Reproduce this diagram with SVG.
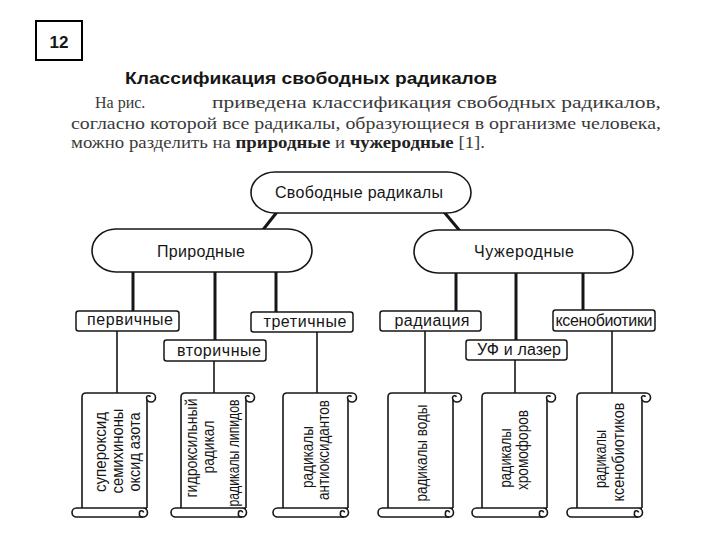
<svg xmlns="http://www.w3.org/2000/svg" xmlns:xlink="http://www.w3.org/1999/xlink" width="720" height="540" viewBox="0 0 720 540">
<style>
.sans{font-family:"Liberation Sans",Arial,"Noto Sans",sans-serif;fill:#161616}
.serif{font-family:"Liberation Serif","Times New Roman",serif;fill:#3a3a3a}
.node{fill:#fff;stroke:#161616;stroke-width:1.6}
.box{fill:#fff;stroke:#161616;stroke-width:1.5}
.thick{stroke:#161616;stroke-width:3;fill:none}
.thin{stroke:#161616;stroke-width:1.6;fill:none}
.scr{fill:none;stroke:#161616;stroke-width:1.6;stroke-linejoin:round}
.t16{font-size:16px}
.t15{font-size:16px}
</style>
<defs>
<g id="scroll">
<path class="scr" d="M0,115 V4 Q0,0 4,0 H69"/>
<path class="scr" d="M69,0 A4.5,4.5 0 1 1 64.5,4.5 A2.2,2.2 0 0 1 68.5,3.8"/>
<path class="scr" d="M65,7 V115"/>
<path class="scr" d="M65,115 H-5.5 A4.5,4.5 0 0 0 -5.5,124 H61 A4.5,4.5 0 0 0 61,115"/>
<path class="scr" d="M61,124 A3,3 0 0 1 57.5,120 A2,2 0 0 1 61.5,119.5"/>
</g>
</defs>
<rect width="720" height="540" fill="#fff"/>

<g id="page-number">
<rect x="36" y="21" width="46" height="39" fill="#fff" stroke="#000" stroke-width="2"/>
<text x="59" y="48" class="sans" font-size="17" font-weight="bold" text-anchor="middle" fill="#000">12</text>
</g>

<g id="heading">
<text x="125" y="84" class="sans" font-size="16" font-weight="bold" textLength="372" lengthAdjust="spacingAndGlyphs" fill="#222">Классификация свободных радикалов</text>
<text x="95" y="108" class="serif" font-size="16">На рис.</text>
<text x="212" y="108" class="serif" font-size="16" textLength="449" lengthAdjust="spacingAndGlyphs">приведена классификация свободных радикалов,</text>
<text x="71" y="129" class="serif" font-size="16" textLength="590" lengthAdjust="spacingAndGlyphs">согласно которой все радикалы, образующиеся в организме человека,</text>
<text x="71" y="148" class="serif" font-size="16" textLength="414" lengthAdjust="spacingAndGlyphs">можно разделить на <tspan font-weight="bold" fill="#222">природные</tspan> и <tspan font-weight="bold" fill="#222">чужеродные</tspan> [1].</text>
</g>

<g id="connectors">
<line class="thick" x1="277" y1="212" x2="262" y2="231"/>
<line class="thick" x1="444" y1="212" x2="460" y2="231"/>
<line class="thick" x1="133" y1="272" x2="133" y2="311"/>
<line class="thick" x1="215" y1="272" x2="215" y2="340"/>
<line class="thick" x1="276" y1="272" x2="276" y2="312"/>
<line class="thick" x1="456" y1="273" x2="456" y2="311"/>
<line class="thick" x1="516" y1="273" x2="516" y2="340"/>
<line class="thick" x1="583" y1="273" x2="583" y2="310"/>
<line class="thin" x1="117" y1="331" x2="117" y2="393"/>
<line class="thin" x1="214" y1="361" x2="214" y2="393"/>
<line class="thin" x1="317" y1="332" x2="317" y2="393"/>
<line class="thin" x1="425" y1="331" x2="425" y2="393"/>
<line class="thin" x1="515" y1="360" x2="515" y2="393"/>
<line class="thin" x1="612" y1="331" x2="612" y2="393"/>
</g>

<g id="n-root">
<rect class="node" x="251" y="172" width="220" height="41" rx="24" ry="20.5"/>
<text x="359" y="198" class="sans t16" text-anchor="middle" textLength="168" lengthAdjust="spacing">Свободные радикалы</text>
</g>
<g id="n-natural">
<rect class="node" x="92" y="229" width="220" height="43" rx="24" ry="21.5"/>
<text x="201" y="257" class="sans t16" text-anchor="middle" textLength="88" lengthAdjust="spacing">Природные</text>
</g>
<g id="n-foreign">
<rect class="node" x="414" y="230" width="219" height="43" rx="24" ry="21.5"/>
<text x="524" y="257" class="sans t16" text-anchor="middle" textLength="100" lengthAdjust="spacing">Чужеродные</text>
</g>

<g id="n-primary">
<rect class="box" x="76" y="311" width="103" height="20" rx="2.5"/>
<text x="130" y="325" class="sans t16" text-anchor="middle" textLength="86" lengthAdjust="spacing">первичные</text>
</g>
<g id="n-secondary">
<rect class="box" x="164" y="340" width="102" height="21" rx="2.5"/>
<text x="219" y="356" class="sans t16" text-anchor="middle" textLength="84" lengthAdjust="spacing">вторичные</text>
</g>
<g id="n-tertiary">
<rect class="box" x="251" y="312" width="102" height="20" rx="2.5"/>
<text x="305" y="327" class="sans t16" text-anchor="middle" textLength="83" lengthAdjust="spacing">третичные</text>
</g>
<g id="n-radiation">
<rect class="box" x="380" y="311" width="101" height="20" rx="2.5"/>
<text x="432" y="326" class="sans t16" text-anchor="middle" textLength="75" lengthAdjust="spacing">радиация</text>
</g>
<g id="n-uv">
<rect class="box" x="466" y="340" width="101" height="20" rx="2.5"/>
<text x="519" y="355" class="sans t16" text-anchor="middle" textLength="84" lengthAdjust="spacing">УФ и лазер</text>
</g>
<g id="n-xeno">
<rect class="box" x="553" y="310" width="102" height="21" rx="2.5"/>
<text x="604" y="326" class="sans t16" text-anchor="middle" textLength="97" lengthAdjust="spacing">ксенобиотики</text>
</g>

<g id="s1">
<use xlink:href="#scroll" href="#scroll" x="82" y="393"/>
<text class="sans t15" text-anchor="middle" transform="translate(106,452) rotate(-90)" textLength="80" lengthAdjust="spacingAndGlyphs">супероксид</text>
<text class="sans t15" text-anchor="middle" transform="translate(123,451) rotate(-90)" textLength="85" lengthAdjust="spacingAndGlyphs">семихиноны</text>
<text class="sans t15" text-anchor="middle" transform="translate(140,452) rotate(-90)" textLength="79" lengthAdjust="spacingAndGlyphs">оксид  азота</text>
</g>
<g id="s2">
<use xlink:href="#scroll" href="#scroll" x="181" y="393"/>
<text class="sans t15" text-anchor="middle" transform="translate(197,448) rotate(-90)" textLength="99" lengthAdjust="spacingAndGlyphs">гидроксильный</text>
<text class="sans t15" text-anchor="middle" transform="translate(214,447) rotate(-90)" textLength="53" lengthAdjust="spacingAndGlyphs">радикал</text>
<text class="sans t15" text-anchor="middle" transform="translate(239,453) rotate(-90)" textLength="107" lengthAdjust="spacingAndGlyphs">радикалы липидов</text>
</g>
<g id="s3">
<use xlink:href="#scroll" href="#scroll" x="283" y="393"/>
<text class="sans t15" text-anchor="middle" transform="translate(313,457) rotate(-90)" textLength="62" lengthAdjust="spacingAndGlyphs">радикалы</text>
<text class="sans t15" text-anchor="middle" transform="translate(329,450) rotate(-90)" textLength="100" lengthAdjust="spacingAndGlyphs">антиоксидантов</text>
</g>
<g id="s4">
<use xlink:href="#scroll" href="#scroll" x="388" y="393"/>
<text class="sans t15" text-anchor="middle" transform="translate(427,453) rotate(-90)" textLength="97" lengthAdjust="spacingAndGlyphs">радикалы воды</text>
</g>
<g id="s5">
<use xlink:href="#scroll" href="#scroll" x="482" y="393"/>
<text class="sans t15" text-anchor="middle" transform="translate(511,458) rotate(-90)" textLength="59" lengthAdjust="spacingAndGlyphs">радикалы</text>
<text class="sans t15" text-anchor="middle" transform="translate(528,450) rotate(-90)" textLength="80" lengthAdjust="spacingAndGlyphs">хромофоров</text>
</g>
<g id="s6">
<use xlink:href="#scroll" href="#scroll" x="577" y="393"/>
<text class="sans t15" text-anchor="middle" transform="translate(606,459) rotate(-90)" textLength="58" lengthAdjust="spacingAndGlyphs">радикалы</text>
<text class="sans t15" text-anchor="middle" transform="translate(624,452) rotate(-90)" textLength="99" lengthAdjust="spacingAndGlyphs">ксенобиотиков</text>
</g>
</svg>
